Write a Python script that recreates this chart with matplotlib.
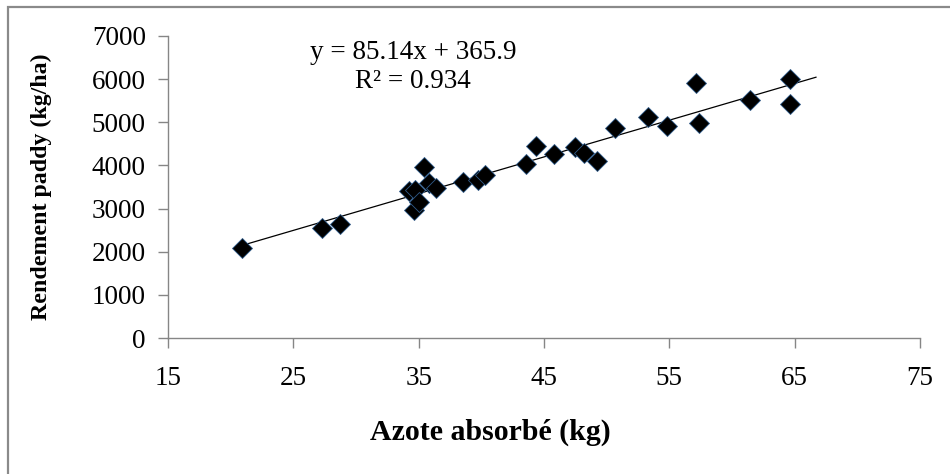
import matplotlib.pyplot as plt
from matplotlib.patches import Rectangle

# Nitrogen uptake (kg) vs paddy yield (kg/ha)
azote = [20.9, 27.3, 28.7, 34.2, 34.7, 34.6, 35.0, 35.4, 35.8, 36.4,
         38.5, 39.7, 40.3, 43.6, 44.4, 45.8, 47.5, 48.2, 49.2, 50.7,
         53.3, 54.8, 57.1, 57.4, 61.4, 64.6, 64.6]
rendement = [2090, 2560, 2650, 3410, 3420, 2970, 3160, 3960, 3600, 3480,
             3610, 3660, 3780, 4030, 4440, 4260, 4420, 4290, 4110, 4870,
             5130, 4920, 5920, 4990, 5520, 6010, 5430]

# Trendline reported on the chart
slope = 85.14
intercept = 365.9
trend_x = [21.0, 66.7]

xticks = [15, 25, 35, 45, 55, 65, 75]
yticks = [0, 1000, 2000, 3000, 4000, 5000, 6000, 7000]

plt.rcParams["font.family"] = ["Liberation Serif", "DejaVu Serif"]
axis_grey = "#868686"

fig = plt.figure(figsize=(9.5, 4.74), dpi=100)
ax = fig.add_axes([168 / 950, 136 / 474, 752 / 950, 302 / 474])

# outer chart frame (only top/left visible in the reference)
fig.patches.append(Rectangle((8 / 950, -0.1), 1.2, (474 - 7) / 474 + 0.1,
                             transform=fig.transFigure, fill=False,
                             edgecolor="#8a8a8a", linewidth=1.6))

ax.plot(trend_x, [slope * v + intercept for v in trend_x],
        color="black", linewidth=0.9, zorder=2)
ax.plot(azote, rendement, linestyle="none", marker="D", markersize=10.5,
        markerfacecolor="black", markeredgecolor="#2f5b8a",
        markeredgewidth=0.6, zorder=3)

ax.set_xlim(15, 75)
ax.set_ylim(0, 7000)
ax.set_xticks(xticks)
ax.set_yticks(yticks)
ax.tick_params(axis="both", direction="out", length=7, width=1,
               color=axis_grey, labelsize=19.5)
ax.tick_params(axis="y", pad=9)
ax.tick_params(axis="x", pad=13)

for side in ["top", "right"]:
    ax.spines[side].set_visible(False)
for side in ["left", "bottom"]:
    ax.spines[side].set_color(axis_grey)
    ax.spines[side].set_linewidth(1)

ax.set_xlabel("Azote absorbé (kg)", fontsize=21.5, fontweight="bold")
ax.xaxis.set_label_coords((490 - 168) / 752, -(432 - 338) / 302)
ax.xaxis.label.set_va("center")
ax.set_ylabel("Rendement paddy (kg/ha)", fontsize=17.2, fontweight="bold")
ax.yaxis.set_label_coords(-(168 - 41) / 752, 0.5)
ax.yaxis.label.set_va("center")

ax.text((413 - 168) / 752, (338 - 67) / 302, "y = 85.14x + 365.9\nR² = 0.934",
        transform=ax.transAxes, ha="center", va="center", fontsize=19.5,
        linespacing=1.2)

fig.savefig("out.png", dpi=100)
